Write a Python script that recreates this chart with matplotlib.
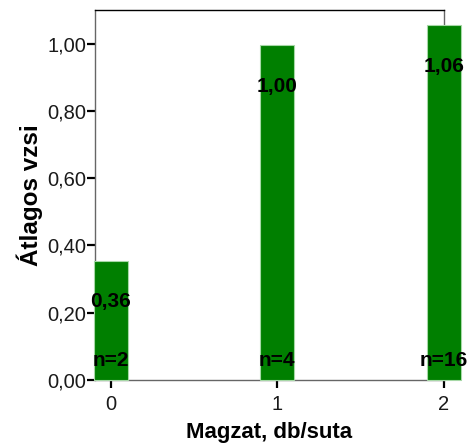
import matplotlib
matplotlib.use("Agg")
import matplotlib.pyplot as plt

plt.rcParams["font.family"] = ["Liberation Sans", "DejaVu Sans"]

# ── Data ─────────────────────────────────────────────────────────────────────
categories = [0, 1, 2]
means = [0.355, 0.995, 1.055]
mean_labels = ["0,36", "1,00", "1,06"]
n_labels = ["n=2", "n=4", "n=16"]
y_ticks = [0.0, 0.2, 0.4, 0.6, 0.8, 1.0]
y_tick_labels = ["0,00", "0,20", "0,40", "0,60", "0,80", "1,00"]

# ── Plot ─────────────────────────────────────────────────────────────────────
fig = plt.figure(figsize=(4.7, 4.44), dpi=100)
ax = fig.add_axes([0.2021, 0.1441, 0.7426, 0.8334])

ax.bar(categories, means, width=0.205, color="#007f00",
       edgecolor="#a6d8a6", linewidth=0.8, clip_on=False, zorder=3)

for x, h, lab, n in zip(categories, means, mean_labels, n_labels):
    ax.annotate(lab, (x, h), xytext=(0, -29.5), textcoords="offset points",
                ha="center", va="center", fontsize=15, fontweight="bold",
                zorder=5, annotation_clip=False)
    ax.annotate(n, (x, 0), xytext=(0, 14), textcoords="offset points",
                ha="center", va="center", fontsize=15, fontweight="bold",
                zorder=5, annotation_clip=False)

ax.set_xlim(-0.094, 2.0)
ax.set_ylim(0, 1.1)
ax.set_xticks(categories)
ax.set_xticklabels([str(c) for c in categories])
ax.set_yticks(y_ticks)
ax.set_yticklabels(y_tick_labels)
ax.tick_params(axis="both", direction="out", length=5.5, width=1.6,
               color="black", labelsize=14.5, labelcolor="#1a1a1a")
ax.tick_params(axis="y", pad=1)
ax.tick_params(axis="x", pad=5)

for side in ("left", "bottom", "right"):
    ax.spines[side].set_color("#666666")
    ax.spines[side].set_linewidth(1.0)
ax.spines["top"].set_color("black")
ax.spines["top"].set_linewidth(1.0)

ax.set_xlabel("Magzat, db/suta", fontsize=16, fontweight="bold", labelpad=6)
ax.set_ylabel("Átlagos vzsi", fontsize=17.5, fontweight="bold", labelpad=3)

fig.savefig("out.png", dpi=100)
